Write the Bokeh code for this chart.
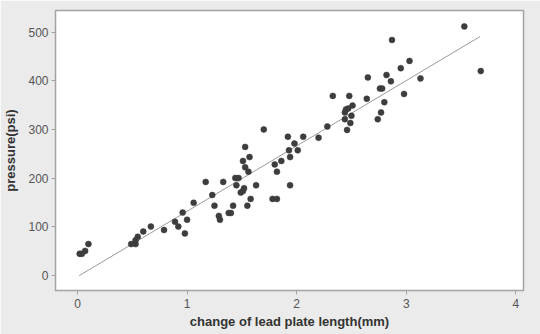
from bokeh.plotting import figure
from bokeh.models import Range1d, FixedTicker
from bokeh.embed import file_html
from bokeh.resources import INLINE

# change of lead plate length (mm) and pressure (psi)
length_mm = [0.02, 0.04, 0.07, 0.10,
             0.49, 0.53, 0.53, 0.55, 0.60, 0.67,
             0.79, 0.89, 0.92, 0.96, 0.98, 1.00,
             1.06, 1.17, 1.23, 1.25, 1.29, 1.30,
             1.33, 1.38, 1.40, 1.42, 1.44, 1.47,
             1.45, 1.49, 1.51, 1.52, 1.51, 1.53,
             1.53, 1.56, 1.57, 1.55, 1.58, 1.63,
             1.70, 1.78, 1.82, 1.80, 1.82, 1.86,
             1.92, 1.93, 1.94, 1.94, 1.98, 2.01,
             2.06, 2.20, 2.28, 2.33, 2.44, 2.45,
             2.44, 2.46, 2.48, 2.47, 2.51, 2.50,
             2.49, 2.64, 2.65, 2.74, 2.77, 2.76,
             2.78, 2.80, 2.82, 2.86, 2.87, 2.95,
             2.98, 3.03, 3.13, 3.53, 3.68]
pressure_psi = [44, 44, 50, 64,
                64, 64, 72, 79, 90, 100,
                93, 110, 100, 129, 86, 114,
                149, 192, 165, 143, 122, 114,
                192, 128, 128, 143, 200, 200,
                185, 170, 173, 179, 235, 264,
                222, 213, 243, 143, 157, 185,
                300, 157, 157, 228, 213, 235,
                285, 257, 243, 185, 271, 257,
                285, 283, 306, 369, 335, 341,
                321, 299, 369, 343, 349, 328,
                313, 363, 407, 321, 335, 384,
                384, 356, 412, 399, 484, 426,
                373, 441, 405, 512, 420]

# fitted line end points
fit_x = [0.015, 3.673]
fit_y = [-1, 491]

x_ticks = [0, 1, 2, 3, 4]
y_ticks = [0, 100, 200, 300, 400, 500]

p = figure(width=540, height=334, output_backend="svg", toolbar_location=None,
           x_range=Range1d(-0.2006, 4.07), y_range=Range1d(-31.5, 544.7),
           min_border_left=52, min_border_right=17, min_border_top=10,
           min_border_bottom=44)

p.background_fill_color = "white"
p.border_fill_color = "#ebebeb"
p.outline_line_color = "#a3a3a3"
p.outline_line_width = 1.5
p.grid.visible = False

p.line(fit_x, fit_y, line_color="#9a9a9a", line_width=1)
p.scatter(length_mm, pressure_psi, size=6, fill_color="#3d3d3d",
          line_color="#3d3d3d", line_width=0.5)

FONT = "Liberation Sans"
for ax in (p.xaxis[0], p.yaxis[0]):
    ax.axis_line_color = None
    ax.major_tick_line_color = "#a3a3a3"
    ax.major_tick_line_width = 1
    ax.major_tick_out = 4
    ax.major_tick_in = 0
    ax.minor_tick_line_color = None
    ax.major_label_text_font = FONT
    ax.major_label_text_font_size = "12px"
    ax.major_label_text_color = "#555555"
    ax.axis_label_text_font = FONT
    ax.axis_label_text_font_size = "13px"
    ax.axis_label_text_font_style = "bold"
    ax.axis_label_text_color = "#333333"

p.xaxis.ticker = FixedTicker(ticks=x_ticks)
p.yaxis.ticker = FixedTicker(ticks=y_ticks)
p.xaxis.axis_label = "change of lead plate length(mm)"
p.yaxis.axis_label = "pressure(psi)"
p.xaxis.major_label_standoff = 4
p.xaxis.axis_label_standoff = 3
p.yaxis.major_label_standoff = 3
p.yaxis.axis_label_standoff = 7

open("out.html", "w").write(file_html(p, INLINE))
